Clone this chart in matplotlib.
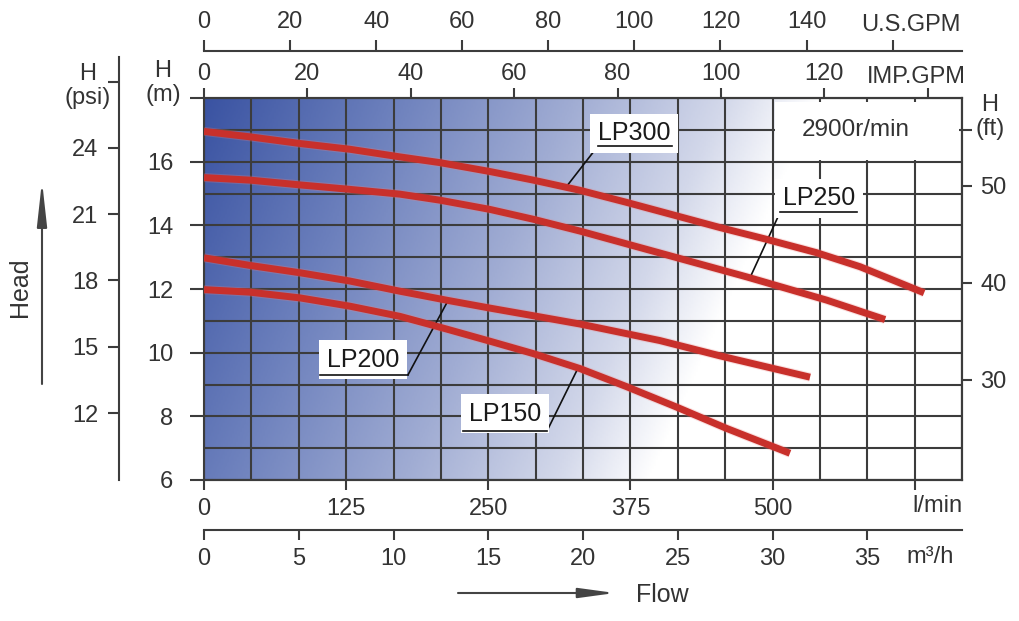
import numpy as np
import matplotlib.pyplot as plt
from matplotlib.colors import LinearSegmentedColormap
from matplotlib.patches import Rectangle

plt.rcParams['font.family'] = ['Liberation Sans', 'DejaVu Sans']

# pump curves, flow in m3/h, head in m
q300 = [0, 2.43, 5.07, 7.70, 10.34, 12.45, 15.09, 17.38, 19.84, 22.31, 27.23, 29.69, 32.33, 34.62, 38.0]
h300 = [16.95, 16.78, 16.57, 16.39, 16.15, 15.97, 15.69, 15.42, 15.10, 14.72, 13.93, 13.56, 13.14, 12.70, 11.88]
q250 = [0, 2.43, 5.07, 7.70, 10.34, 12.45, 15.09, 17.38, 19.84, 24.06, 28.64, 32.86, 35.94]
h250 = [15.50, 15.42, 15.27, 15.13, 14.98, 14.79, 14.50, 14.19, 13.82, 13.13, 12.38, 11.65, 11.04]
q200 = [0, 2.43, 5.07, 7.70, 10.34, 12.88, 15.09, 17.38, 19.84, 24.06, 27.23, 31.98]
h200 = [12.98, 12.74, 12.51, 12.25, 11.93, 11.64, 11.40, 11.16, 10.90, 10.38, 9.90, 9.23]
q150 = [0, 2.43, 5.07, 7.70, 10.34, 12.45, 15.09, 17.38, 19.84, 22.31, 24.94, 27.58, 30.92]
h150 = [11.98, 11.90, 11.72, 11.46, 11.14, 10.80, 10.36, 9.97, 9.50, 8.93, 8.29, 7.62, 6.84]

names = ['LP300', 'LP250', 'LP200', 'LP150']

lpm_ticks = [0, 125, 250, 375, 500, 625]
m3h_ticks = [0, 5, 10, 15, 20, 25, 30, 35]
us_ticks = [0, 20, 40, 60, 80, 100, 120, 140, 160]
imp_ticks = [0, 20, 40, 60, 80, 100, 120, 140]
m_ticks = [6, 8, 10, 12, 14, 16, 18]
psi_ticks = [12, 15, 18, 21, 24, 27]
ft_ticks = [30, 40, 50]

M_TO_FT = 3.28084
US_GAL = 3.78541
IMP_GAL = 4.54609

txt = '#333333'
gc = '#3c3c3c'

fig = plt.figure(figsize=(10.2, 6.21), dpi=100)
ax = fig.add_axes([204/1020, 141/621, 758/1020, 382/621])
ax.set_xlim(0, 40)
ax.set_ylim(6, 18)

# background gradient
qq = np.linspace(0, 40, 400)
hh = np.linspace(6, 18, 200)
Q, H = np.meshgrid(qq, hh)
t = np.clip(Q / 32.5 + (18 - H) * 0.023, 0, 1)
bg = LinearSegmentedColormap.from_list('bg', [(0, '#3a53a2'), (0.3, '#6b7fbc'),
                                              (0.6, '#a0acd3'), (0.85, '#d3d8ea'),
                                              (1, '#ffffff')])
ax.imshow(t, extent=[0, 40, 6, 18], origin='lower', cmap=bg, vmin=0, vmax=1,
          aspect='auto', zorder=0)

ax.set_xticks(np.arange(0, 40.1, 2.5))
ax.set_xticklabels([])
ax.tick_params(axis='x', length=0)
ax.set_yticks(m_ticks, ['6', '8', '10', '12', '14', '16', ''])
ax.set_yticks(np.arange(6, 18.1, 1), minor=True)
ax.tick_params(axis='y', which='major', length=10, width=1.5, pad=12,
               color=gc, labelcolor=txt, labelsize=17)
ax.tick_params(axis='y', which='minor', length=0)
ax.grid(True, which='both', color=gc, lw=1.5)
for s in ax.spines.values():
    s.set_color(gc)
    s.set_linewidth(1.5)

# curves
for q, h in [(q300, h300), (q250, h250), (q200, h200), (q150, h150)]:
    ax.plot(q, h, color='#ee8080', lw=6.5, alpha=0.25, zorder=3, solid_capstyle='butt',
            solid_joinstyle='round')
    ax.plot(q, h, color='#c8302b', lw=5, zorder=4, solid_capstyle='butt',
            solid_joinstyle='round')

# curve labels: text pos, underline span/level, point on curve
labels = [
    (names[0], 22.69, 16.90, 20.79, 24.70, 16.49, 20.79, 19.10, q300, h300),
    (names[1], 32.45, 14.85, 30.40, 34.46, 14.41, 30.40, 28.81, q250, h250),
    (names[2], 8.39, 9.78, 6.12, 10.77, 9.31, 10.77, 12.88, q200, h200),
    (names[3], 15.88, 8.08, 13.67, 18.10, 7.54, 18.10, 19.74, q150, h150),
]
for name, tx, ty, u0, u1, uy, lx, qp, q, h in labels:
    ax.text(tx, ty, name, ha='center', va='center', fontsize=18, color='#1a1a1a',
            zorder=5, bbox=dict(boxstyle='square,pad=0.3', fc='white', ec='none'))
    ax.plot([u0, u1], [uy, uy], color='#111111', lw=1.2, zorder=6)
    ax.plot([lx, qp], [uy, np.interp(qp, q, h)], color='#111111', lw=1.2, zorder=3.5)

ax.add_patch(Rectangle((30.13, 16.05), 9.71, 1.82, fc='white', ec='none', zorder=2.5))
ax.text(34.4, 16.98, '2900r/min', ha='center', va='center', fontsize=17.5,
        color=txt, zorder=5)

# bottom axes
lpm = ax.secondary_xaxis('bottom', functions=(lambda x: x * 1000 / 60,
                                              lambda x: x * 60 / 1000))
lpm.set_xticks(lpm_ticks, ['0', '125', '250', '375', '500', ''])
lpm.tick_params(length=7, width=1.5, pad=6, color=gc, labelcolor=txt, labelsize=17)
lpm.spines['bottom'].set_color(gc)
lpm.spines['bottom'].set_linewidth(1.5)

m3 = ax.secondary_xaxis(-50/382)
m3.set_xticks(m3h_ticks, [str(v) for v in m3h_ticks])
m3.tick_params(length=7, width=1.5, pad=6, color=gc, labelcolor=txt, labelsize=17)
m3.spines['bottom'].set_color(gc)
m3.spines['bottom'].set_linewidth(1.5)

tr = ax.get_xaxis_transform()
ax.text(38.68, -0.068, 'l/min', transform=tr, ha='center', va='center',
        fontsize=17, color=txt)
ax.text(38.31, -0.2016, 'm³/h', transform=tr, ha='center', va='center',
        fontsize=17, color=txt)

# top axes
us = ax.secondary_xaxis(1 + 47/382, functions=(lambda x: x * 1000 / 60 / US_GAL,
                                               lambda x: x * US_GAL * 60 / 1000))
us.set_xticks(us_ticks, [str(v) for v in us_ticks[:-1]] + [''])
us.tick_params(length=8, width=1.5, pad=5, color=gc, labelcolor=txt, labelsize=17)
us.spines['top'].set_color(gc)
us.spines['top'].set_linewidth(1.5)

imp = ax.secondary_xaxis('top', functions=(lambda x: x * 1000 / 60 / IMP_GAL,
                                           lambda x: x * IMP_GAL * 60 / 1000))
imp.set_xticks(imp_ticks, [str(v) for v in imp_ticks[:-1]] + [''])
imp.tick_params(length=7, width=1.5, pad=2, color=gc, labelcolor=txt, labelsize=17)
imp.spines['top'].set_color(gc)
imp.spines['top'].set_linewidth(1.5)

ax.text(37.31, 1.191, 'U.S.GPM', transform=tr, ha='center', va='center',
        fontsize=17, color=txt)
ax.text(37.57, 1.055, 'IMP.GPM', transform=tr, ha='center', va='center',
        fontsize=17, color=txt)

# right axis in feet
ft = ax.secondary_yaxis('right', functions=(lambda m: m * M_TO_FT, lambda f: f / M_TO_FT))
ft.set_yticks(ft_ticks + [17 * M_TO_FT], ['30', '40', '50', ''])
ft.tick_params(length=7, width=1.5, pad=6, color=gc, labelcolor=txt, labelsize=17)
ft.spines['right'].set_color(gc)
ft.spines['right'].set_linewidth(1.5)

# psi axis
pax = fig.add_axes([119/1020, 141/621, 1e-4, 423/621])
pax.set_ylim(8.97, 28.11)
pax.set_xticks([])
pax.set_yticks(psi_ticks, ['12', '15', '18', '21', '24', ''])
pax.tick_params(axis='y', length=8, width=1.5, pad=7, color=gc, labelcolor=txt,
                labelsize=17)
pax.patch.set_visible(False)
for s in ['top', 'right', 'bottom']:
    pax.spines[s].set_visible(False)
pax.spines['left'].set_color(gc)
pax.spines['left'].set_linewidth(1.5)

fig.text(163/1020, 1 - 83/621, 'H\n(m)', ha='center', va='center', fontsize=17,
         color=txt, linespacing=1.15)
fig.text(88/1020, 1 - 86/621, 'H\n(psi)', ha='center', va='center', fontsize=17,
         color=txt, linespacing=1.15)
fig.text(990/1020, 1 - 117/621, 'H\n(ft)', ha='center', va='center', fontsize=17,
         color=txt, linespacing=1.15)
fig.text(20/1020, 1 - 287/621, 'Head', rotation=90, ha='center', va='center',
         fontsize=18, color=txt)
fig.text(662/1020, 1 - 595/621, 'Flow', ha='center', va='center', fontsize=18,
         color=txt)

ax.annotate('', xy=(42/1020, 1 - 181/621), xytext=(42/1020, 1 - 384/621),
            xycoords='figure fraction', textcoords='figure fraction',
            arrowprops=dict(arrowstyle='-|>,head_length=2.7,head_width=0.3',
                            mutation_scale=10, color='#444444', lw=1.5,
                            shrinkA=0, shrinkB=0))
ax.annotate('', xy=(615/1020, 1 - 593/621), xytext=(458/1020, 1 - 593/621),
            xycoords='figure fraction', textcoords='figure fraction',
            arrowprops=dict(arrowstyle='-|>,head_length=2.2,head_width=0.3',
                            mutation_scale=10, color='#444444', lw=1.5,
                            shrinkA=0, shrinkB=0))

fig.savefig('out.png', dpi=100)
